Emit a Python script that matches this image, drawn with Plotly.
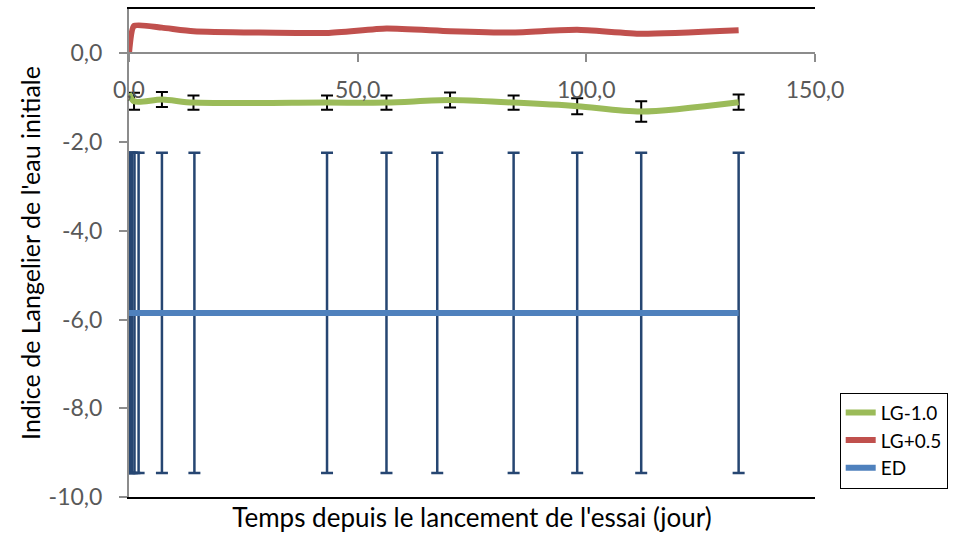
import plotly.graph_objects as go

# Days since the start of the trial
days_lg = [0, 1.1, 7.2, 14.1, 43.3, 56.3, 70.2, 84.1, 98.0, 112.0, 133.3]
days_ed = [0, 0.3, 0.7, 1.2, 2.1, 7.2, 14.3, 43.3, 56.3, 67.4, 84.1, 98.0, 112.0, 133.3]

# Langelier index of the initial water
lg_minus = [-0.90, -1.08, -1.04, -1.11, -1.11, -1.11, -1.05, -1.11, -1.19, -1.31, -1.10]
lg_minus_err = [0.0, 0.19, 0.17, 0.16, 0.16, 0.16, 0.17, 0.16, 0.18, 0.23, 0.17]
lg_plus = [0.0, 0.62, 0.58, 0.50, 0.46, 0.56, 0.50, 0.47, 0.53, 0.44, 0.52]
ed = [-5.85] * 14
ed_err = [3.61] * 14

x_ticks = [0, 50, 100, 150]
x_ticktext = ["0,0", "50,0", "100,0", "150,0"]
y_ticks = [-10, -8, -6, -4, -2, 0]
y_ticktext = ["-10,0", "-8,0", "-6,0", "-4,0", "-2,0", "0,0"]

FONT = "Lato"
AXIS_GREY = "#8c8c8c"
TICK_FONT = dict(family=FONT, size=23, color="#595959")

fig = go.Figure()

fig.add_trace(go.Scatter(
    x=days_lg, y=lg_minus, name="LG-1.0", mode="lines",
    line=dict(color="#9BBB59", width=6, shape="spline", smoothing=0.8),
    error_y=dict(type="data", array=lg_minus_err, visible=True,
                 color="black", thickness=2, width=6),
))
fig.add_trace(go.Scatter(
    x=days_lg, y=lg_plus, name="LG+0.5", mode="lines",
    line=dict(color="#C0504D", width=6, shape="spline", smoothing=0.5),
))
fig.add_trace(go.Scatter(
    x=days_ed, y=ed, name="ED", mode="lines",
    line=dict(color="#4F81BD", width=6),
    error_y=dict(type="data", array=ed_err, visible=True,
                 color="#264672", thickness=2.5, width=6),
))
# frame axis carrying the bottom title and the black top/bottom border
fig.add_trace(go.Scatter(x=[], y=[], xaxis="x2", showlegend=False, hoverinfo="skip"))

fig.update_layout(
    width=955, height=536,
    margin=dict(l=129, r=137, t=7, b=39),
    paper_bgcolor="white", plot_bgcolor="white",
    font=dict(family=FONT, size=23, color="#595959"),
    xaxis=dict(
        range=[0, 150], tickvals=x_ticks, ticktext=x_ticktext,
        anchor="free", position=10 / 11, side="bottom",
        showline=True, linecolor=AXIS_GREY, linewidth=2,
        ticks="outside", ticklen=8, tickwidth=2, tickcolor=AXIS_GREY,
        ticklabelstandoff=8,
        showgrid=False, zeroline=False,
        tickfont=TICK_FONT,
    ),
    xaxis2=dict(
        range=[0, 150], overlaying="x", anchor="y", side="bottom",
        showline=True, mirror=True, linecolor="black", linewidth=2,
        showticklabels=False, ticks="", showgrid=False, zeroline=False,
        title=dict(text="Temps depuis le lancement de l'essai (jour)",
                   font=dict(family=FONT, size=26, color="black"), standoff=11),
    ),
    yaxis=dict(
        range=[-10, 1], tickvals=y_ticks, ticktext=y_ticktext,
        showline=True, linecolor=AXIS_GREY, linewidth=2,
        ticks="outside", ticklen=8, tickwidth=2, tickcolor=AXIS_GREY,
        ticklabelstandoff=12,
        showgrid=False, zeroline=False,
        tickfont=TICK_FONT,
        title=dict(text="Indice de Langelier de l'eau initiale",
                   font=dict(family=FONT, size=25, color="black"), standoff=1),
    ),
    legend=dict(
        x=1.036, y=0.214, xanchor="left", yanchor="top",
        bordercolor="black", borderwidth=1, bgcolor="white",
        font=dict(family=FONT, size=19, color="black"),
        traceorder="normal",
    ),
    showlegend=True,
)

fig.write_html("out.html")
